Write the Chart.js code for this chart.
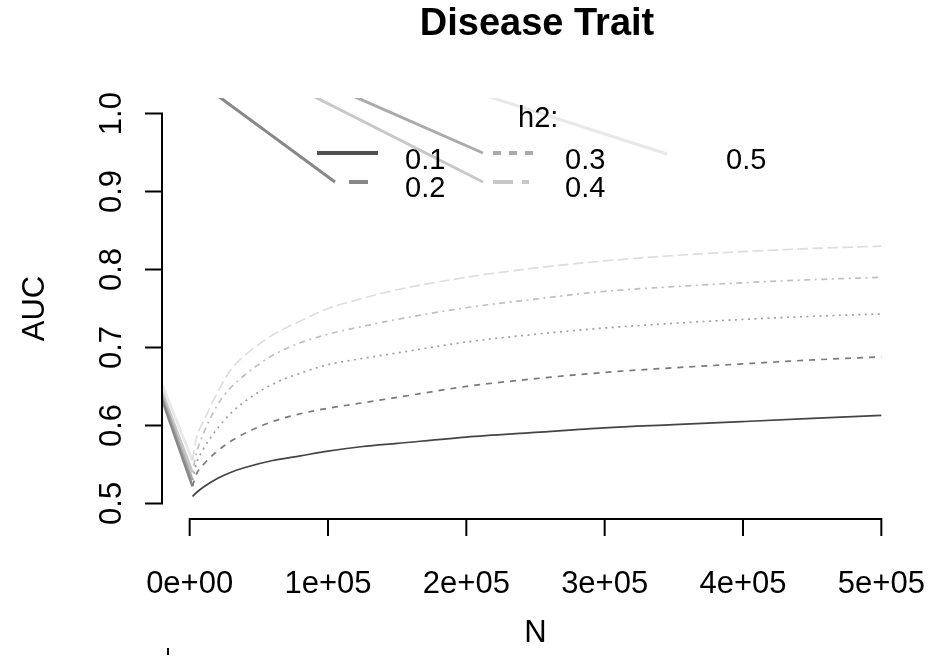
<!DOCTYPE html>
<html>
<head>
<meta charset="utf-8">
<script src="https://cdn.jsdelivr.net/npm/chart.js@4/dist/chart.umd.min.js"></script>
<style>
  html, body { margin: 0; padding: 0; background: #ffffff; }
  canvas { display: block; }
</style>
</head>
<body>
<canvas id="auc" width="938" height="666"></canvas>
<script>
// Training-set size
const sampleSizes = [2000, 5000, 10000, 20000, 30000, 40000, 60000, 80000, 100000, 125000,
                     150000, 200000, 250000, 300000, 350000, 400000, 450000, 500000];

// Expected AUC for each heritability
const aucH01 = [0.509, 0.514, 0.521, 0.532, 0.540, 0.546, 0.555, 0.561, 0.567, 0.573,
                0.577, 0.585, 0.591, 0.597, 0.601, 0.605, 0.609, 0.613];
const aucH02 = [0.522, 0.538, 0.550, 0.567, 0.580, 0.590, 0.605, 0.615, 0.622, 0.629,
                0.636, 0.650, 0.660, 0.668, 0.674, 0.679, 0.684, 0.688];
const aucH03 = [0.530, 0.552, 0.570, 0.596, 0.616, 0.631, 0.653, 0.667, 0.678, 0.686,
                0.693, 0.707, 0.717, 0.725, 0.731, 0.736, 0.740, 0.743];
const aucH04 = [0.540, 0.565, 0.590, 0.626, 0.649, 0.665, 0.690, 0.706, 0.717, 0.727,
                0.736, 0.751, 0.762, 0.772, 0.778, 0.783, 0.787, 0.790];
const aucH05 = [0.555, 0.585, 0.605, 0.642, 0.672, 0.690, 0.716, 0.734, 0.750, 0.763,
                0.774, 0.790, 0.802, 0.811, 0.818, 0.823, 0.827, 0.830];

const h2Labels = ['0.1', '0.2', '0.3', '0.4', '0.5'];
const aucSeries = [aucH01, aucH02, aucH03, aucH04, aucH05];

// Lead-in segments that run in from the left margin to the first point of h2 = 0.2 ... 0.5
const leadInStart = { n: -53000, auc: 0.80 };

// Axis ticks
const xTickValues = [0, 100000, 200000, 300000, 400000, 500000];
const xTickLabels = ['0e+00', '1e+05', '2e+05', '3e+05', '4e+05', '5e+05'];
const yTickValues = [0.5, 0.6, 0.7, 0.8, 0.9, 1.0];
const yTickLabels = ['0.5', '0.6', '0.7', '0.8', '0.9', '1.0'];

// Styling
const lineColors  = ['#444444', '#7a7a7a', '#a0a0a0', '#c0c0c0', '#dedede'];
const legendColors = ['#505050', '#888888', '#aaaaaa', '#c8c8c8', '#e8e8e8'];
const lineDashes  = [[], [6, 6], [2, 4.5], [2, 4.5, 6, 4.5], [10.5, 4.5]];
const FONT = '"Liberation Sans", Arial, Helvetica, sans-serif';

const datasets = aucSeries.map((vals, i) => ({
  label: h2Labels[i],
  data: sampleSizes.map((n, k) => ({ x: n, y: vals[k] })),
  borderColor: lineColors[i],
  borderWidth: 1.7,
  borderDash: lineDashes[i],
  pointRadius: 0,
  fill: false,
  cubicInterpolationMode: 'monotone',
  clip: 0
}));

for (let i = 1; i < aucSeries.length; i++) {
  datasets.push({
    label: 'lead-in ' + h2Labels[i],
    data: [{ x: leadInStart.n, y: leadInStart.auc }, { x: sampleSizes[0], y: aucSeries[i][0] }],
    borderColor: legendColors[i],
    borderWidth: 2.6,
    pointRadius: 0,
    fill: false,
    clip: 0
  });
}

// Base-graphics style axes, title and the in-plot legend
const basePlot = {
  id: 'basePlot',
  afterDraw(chart) {
    const { ctx, chartArea: a, scales: { x, y } } = chart;
    ctx.save();

    // Legend connectors and keys (inside the plot region)
    ctx.save();
    ctx.beginPath();
    ctx.rect(a.left, a.top, a.right - a.left, a.bottom - a.top);
    ctx.clip();
    ctx.lineCap = 'butt';
    ctx.lineWidth = 3;
    const connectors = [
      { c: legendColors[1], x0: 218, y0: a.top, x1: 335, y1: 182 },
      { c: legendColors[3], x0: 313, y0: a.top, x1: 483, y1: 182 },
      { c: legendColors[2], x0: 353, y0: a.top, x1: 483, y1: 153 },
      { c: legendColors[4], x0: 487, y0: a.top, x1: 667, y1: 154 }
    ];
    connectors.forEach(s => {
      ctx.strokeStyle = s.c;
      ctx.setLineDash([]);
      ctx.beginPath();
      ctx.moveTo(s.x0, s.y0 - 2);
      ctx.lineTo(s.x1, s.y1);
      ctx.stroke();
    });
    ctx.lineWidth = 4;
    const keys = [
      { c: legendColors[0], x0: 317, x1: 378, y: 153, d: [] },
      { c: legendColors[1], x0: 349, x1: 368, y: 182, d: [] },
      { c: legendColors[2], x0: 493, x1: 533, y: 153, d: [8, 8] },
      { c: legendColors[3], x0: 493, x1: 529, y: 182, d: [20, 9, 7, 30] }
    ];
    keys.forEach(k => {
      ctx.strokeStyle = k.c;
      ctx.setLineDash(k.d);
      ctx.beginPath();
      ctx.moveTo(k.x0, k.y);
      ctx.lineTo(k.x1, k.y);
      ctx.stroke();
    });
    ctx.restore();

    ctx.fillStyle = '#000';
    ctx.font = '29px ' + FONT;
    ctx.textAlign = 'left';
    ctx.textBaseline = 'alphabetic';
    ctx.fillText('h2:', 518, 127);
    ctx.fillText(h2Labels[0], 405, 169);
    ctx.fillText(h2Labels[1], 405, 197);
    ctx.fillText(h2Labels[2], 565, 169);
    ctx.fillText(h2Labels[3], 565, 197);
    ctx.fillText(h2Labels[4], 726, 169);

    // Axes
    ctx.strokeStyle = '#000';
    ctx.lineWidth = 2;
    ctx.lineCap = 'square';
    ctx.setLineDash([]);
    const xb = a.bottom;
    ctx.beginPath();
    ctx.moveTo(x.getPixelForValue(xTickValues[0]), xb);
    ctx.lineTo(x.getPixelForValue(xTickValues[xTickValues.length - 1]), xb);
    xTickValues.forEach(v => {
      const px = x.getPixelForValue(v);
      ctx.moveTo(px, xb);
      ctx.lineTo(px, xb + 16);
    });
    const yl = a.left;
    ctx.moveTo(yl, y.getPixelForValue(yTickValues[0]));
    ctx.lineTo(yl, y.getPixelForValue(yTickValues[yTickValues.length - 1]));
    yTickValues.forEach(v => {
      const py = y.getPixelForValue(v);
      ctx.moveTo(yl, py);
      ctx.lineTo(yl - 16, py);
    });
    ctx.stroke();

    // Small stray mark below the left axis
    ctx.lineWidth = 2;
    ctx.lineCap = 'butt';
    ctx.beginPath();
    ctx.moveTo(168, 648);
    ctx.lineTo(168, 655);
    ctx.stroke();

    // Tick labels
    ctx.font = '31px ' + FONT;
    ctx.textAlign = 'center';
    ctx.textBaseline = 'alphabetic';
    xTickValues.forEach((v, i) => {
      ctx.fillText(xTickLabels[i], x.getPixelForValue(v), 593);
    });
    yTickValues.forEach((v, i) => {
      ctx.save();
      ctx.translate(121, y.getPixelForValue(v));
      ctx.rotate(-Math.PI / 2);
      ctx.fillText(yTickLabels[i], 0, 0);
      ctx.restore();
    });

    // Axis titles
    ctx.fillText('N', (a.left + a.right) / 2, 642);
    ctx.save();
    ctx.translate(44, (y.getPixelForValue(0.5) + y.getPixelForValue(1.0)) / 2);
    ctx.rotate(-Math.PI / 2);
    ctx.fillText('AUC', 0, 0);
    ctx.restore();

    // Main title
    ctx.font = 'bold 38px ' + FONT;
    ctx.fillText('Disease Trait', 537, 35);

    ctx.restore();
  }
};

new Chart(document.getElementById('auc'), {
  type: 'line',
  data: { datasets },
  options: {
    responsive: false,
    animation: false,
    devicePixelRatio: 1,
    layout: { padding: { left: 162, top: 98, right: 29, bottom: 147 } },
    scales: {
      x: { type: 'linear', min: -20000, max: 520000, display: false },
      y: { type: 'linear', min: 0.48, max: 1.02, display: false }
    },
    plugins: {
      legend: { display: false },
      tooltip: { enabled: false },
      title: { display: false }
    }
  },
  plugins: [basePlot]
});
</script>
</body>
</html>
